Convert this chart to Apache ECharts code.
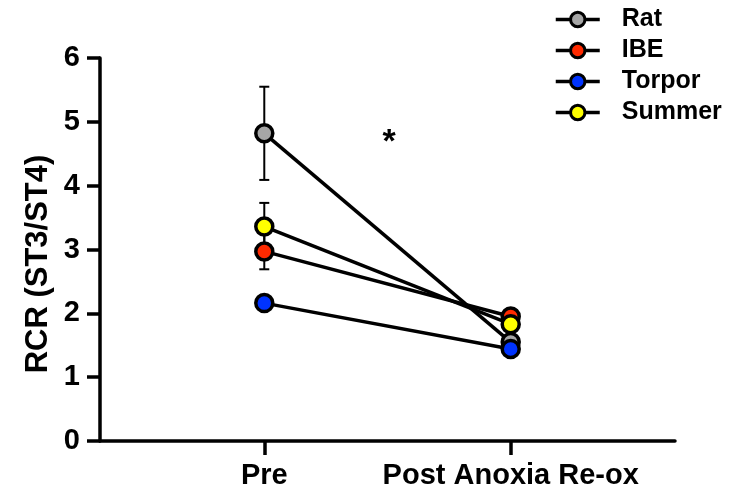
<!DOCTYPE html>
<html>
<head>
<meta charset="utf-8">
<script src="https://cdn.jsdelivr.net/npm/echarts@6/dist/echarts.min.js"></script>
<style>html,body{margin:0;padding:0;background:#fff}#c{width:729px;height:494px}</style>
</head>
<body>
<div id="c"></div>
<script>
const timepoints = ['Pre', 'Post Anoxia Re-ox'];
const seriesNames = ['Rat', 'IBE', 'Torpor', 'Summer'];
const ratValues = [4.82, 1.55];
const ibeValues = [2.97, 1.95];
const torporValues = [2.16, 1.44];
const summerValues = [3.36, 1.83];
const ratErr = [0.73, 0.05];
const ibeErr = [0.28, 0.05];
const torporErr = [0.05, 0.05];
const summerErr = [0.37, 0.05];
const yTicks = [0, 1, 2, 3, 4, 5, 6];
const colors = ['#a6a6a6', '#ff2a00', '#0033ff', '#ffff00'];

const allValues = [ratValues, ibeValues, torporValues, summerValues];
const allErr = [ratErr, ibeErr, torporErr, summerErr];
const FONT = '"Liberation Sans", Arial, sans-serif';

const chart = echarts.init(document.getElementById('c'), null, {renderer: 'canvas'});

const lineSeries = seriesNames.map((name, i) => ({
  name: name,
  type: 'line',
  data: allValues[i].map((v, j) => [j, v]),
  symbol: 'circle',
  symbolSize: 17,
  lineStyle: {color: '#000', width: 3.5},
  itemStyle: {color: colors[i], borderColor: '#000', borderWidth: 3.5},
  z: 3,
  emphasis: {disabled: true}
}));

const errData = [];
seriesNames.forEach((name, i) => {
  allValues[i].forEach((v, j) => {
    errData.push([j, v, v - allErr[i][j], v + allErr[i][j]]);
  });
});

const errSeries = {
  type: 'custom',
  data: errData,
  z: 2,
  silent: true,
  renderItem: function (params, api) {
    const x = api.value(0);
    const lo = api.coord([x, api.value(2)]);
    const hi = api.coord([x, api.value(3)]);
    const hw = 5;
    const style = {stroke: '#000', lineWidth: 2, fill: null};
    return {
      type: 'group',
      children: [
        {type: 'line', shape: {x1: lo[0], y1: lo[1], x2: hi[0], y2: hi[1]}, style: style},
        {type: 'line', shape: {x1: lo[0] - hw, y1: lo[1], x2: lo[0] + hw, y2: lo[1]}, style: style},
        {type: 'line', shape: {x1: hi[0] - hw, y1: hi[1], x2: hi[0] + hw, y2: hi[1]}, style: style}
      ]
    };
  }
};

chart.setOption({
  animation: false,
  backgroundColor: '#fff',
  grid: {left: 100, right: 54, top: 58, bottom: 53, containLabel: false},
  legend: {
    data: seriesNames,
    orient: 'vertical',
    left: 554,
    top: 7,
    padding: 0,
    itemWidth: 44,
    itemHeight: 18,
    itemGap: 6,
    lineStyle: {color: '#000', width: 3.5},
    itemStyle: {borderColor: '#000', borderWidth: 3},
    textStyle: {fontFamily: FONT, fontWeight: 'bold', fontSize: 25, color: '#000', padding: [0, 0, 0, 17]},
    selectedMode: false
  },
  xAxis: {
    type: 'value',
    min: -2 / 3,
    max: 5 / 3,
    splitLine: {show: false},
    axisLine: {show: true, onZero: false, lineStyle: {color: '#000', width: 3.5}},
    axisTick: {show: true, customValues: [0, 1], length: 14, lineStyle: {color: '#000', width: 3.5}},
    axisLabel: {
      customValues: [0, 1],
      formatter: function (v) { return timepoints[Math.round(v)]; },
      fontFamily: FONT, fontWeight: 'bold', fontSize: 29, color: '#000', margin: 20
    }
  },
  yAxis: {
    type: 'value',
    min: yTicks[0],
    max: yTicks[yTicks.length - 1],
    interval: 1,
    splitLine: {show: false},
    axisLine: {show: true, onZero: false, lineStyle: {color: '#000', width: 3.5}},
    axisTick: {show: true, length: 13, lineStyle: {color: '#000', width: 3.5}},
    axisLabel: {fontFamily: FONT, fontWeight: 'bold', fontSize: 29, color: '#000', margin: 20}
  },
  graphic: [
    {
      type: 'text',
      x: 38, y: 264,
      rotation: Math.PI / 2,
      style: {text: 'RCR (ST3/ST4)', fontFamily: FONT, fontWeight: 'bold', fontSize: 31, fill: '#000', align: 'center', verticalAlign: 'middle'}
    },
    {
      type: 'text',
      x: 389, y: 143,
      style: {text: '*', fontFamily: FONT, fontWeight: 'bold', fontSize: 34, fill: '#000', align: 'center', verticalAlign: 'middle'}
    }
  ],
  series: [errSeries].concat(lineSeries)
});
</script>
</body>
</html>
